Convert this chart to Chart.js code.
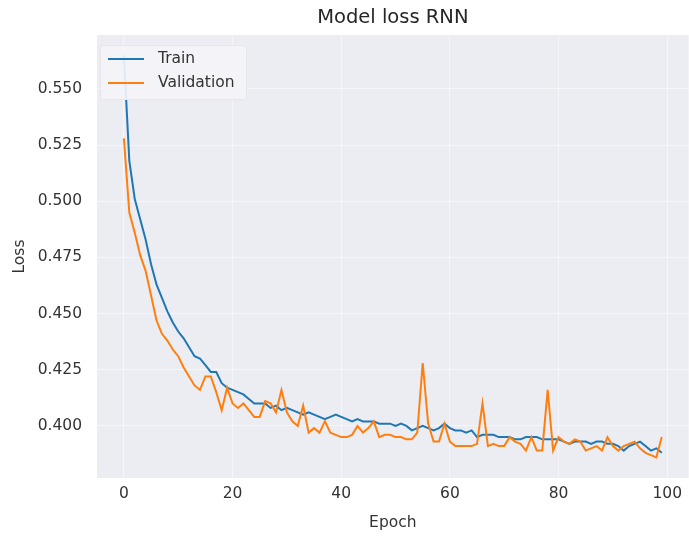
<!DOCTYPE html>
<html><head><meta charset="utf-8">
<script src="https://cdn.jsdelivr.net/npm/chart.js@4.4.1/dist/chart.umd.min.js"></script>
<style>html,body{margin:0;padding:0;background:#fff;}canvas{display:block;}</style>
</head><body>
<canvas id="c" width="689" height="538"></canvas>
<script>
const epochs = [0,1,2,3,4,5,6,7,8,9,10,11,12,13,14,15,16,17,18,19,20,21,22,23,24,25,26,27,28,29,30,31,32,33,34,35,36,37,38,39,40,41,42,43,44,45,46,47,48,49,50,51,52,53,54,55,56,57,58,59,60,61,62,63,64,65,66,67,68,69,70,71,72,73,74,75,76,77,78,79,80,81,82,83,84,85,86,87,88,89,90,91,92,93,94,95,96,97,98,99];
const trainLoss = [0.565,0.518,0.501,0.492,0.483,0.472,0.463,0.457,0.451,0.446,0.442,0.439,0.435,0.431,0.430,0.427,0.424,0.424,0.419,0.417,
0.416,0.415,0.414,0.412,0.410,0.410,0.410,0.408,0.409,0.407,0.408,0.407,0.406,0.405,0.406,0.405,0.404,0.403,0.404,0.405,
0.404,0.403,0.402,0.403,0.402,0.402,0.402,0.401,0.401,0.401,0.400,0.401,0.400,0.398,0.399,0.400,0.399,0.398,0.399,0.401,
0.399,0.398,0.398,0.397,0.398,0.395,0.396,0.396,0.396,0.395,0.395,0.395,0.394,0.394,0.395,0.395,0.395,0.394,0.394,0.394,
0.394,0.393,0.392,0.393,0.393,0.393,0.392,0.393,0.393,0.392,0.392,0.391,0.389,0.391,0.392,0.393,0.391,0.389,0.390,0.388];
const valLoss = [0.528,0.495,0.486,0.476,0.469,0.458,0.447,0.441,0.438,0.434,0.431,0.426,0.422,0.418,0.416,0.422,0.422,0.415,0.407,0.417,
0.410,0.408,0.410,0.407,0.404,0.404,0.411,0.410,0.406,0.416,0.406,0.402,0.400,0.409,0.397,0.399,0.397,0.402,0.397,0.396,
0.395,0.395,0.396,0.400,0.397,0.399,0.402,0.395,0.396,0.396,0.395,0.395,0.394,0.394,0.397,0.428,0.401,0.393,0.393,0.401,
0.393,0.391,0.391,0.391,0.391,0.392,0.410,0.391,0.392,0.391,0.391,0.395,0.393,0.392,0.389,0.395,0.389,0.389,0.416,0.389,
0.395,0.393,0.392,0.394,0.393,0.389,0.390,0.391,0.389,0.395,0.391,0.389,0.391,0.392,0.393,0.390,0.388,0.387,0.386,0.395];
const xTicks = [0,20,40,60,80,100];
const yTicks = [0.400,0.425,0.450,0.475,0.500,0.525,0.550];
const seriesNames = ['Train','Validation'];
const seriesColors = ['#1f77b4','#ff7f0e'];
const chartTitle = 'Model loss RNN';

const FAM = '"DejaVu Sans", sans-serif';
const TXT = '#333333';

const bgPlugin = {
  id: 'bg',
  beforeDraw(chart) {
    const {ctx, chartArea: a} = chart;
    ctx.save();
    ctx.fillStyle = '#ECECF3';
    ctx.fillRect(a.left, a.top, a.right - a.left, a.bottom - a.top);
    ctx.restore();
  },
  afterDraw(chart) {
    const {ctx, chartArea: a} = chart;
    ctx.save();
    ctx.fillStyle = '#262626';
    ctx.font = '19.5px ' + FAM;
    ctx.textAlign = 'center';
    ctx.textBaseline = 'middle';
    ctx.fillText(chartTitle, (a.left + a.right) / 2, 18);
    const bx = a.left + 3, by = a.top + 10, bw = 146, bh = 54;
    ctx.fillStyle = 'rgba(243,243,248,0.92)';
    ctx.strokeStyle = '#E6E6EE';
    ctx.lineWidth = 1;
    ctx.beginPath();
    ctx.roundRect(bx + 0.5, by + 0.5, bw, bh, 3);
    ctx.fill();
    ctx.stroke();
    ctx.font = '15.5px ' + FAM;
    ctx.textAlign = 'left';
    seriesNames.forEach((n, i) => {
      const yy = by + 14 + i * 24;
      ctx.strokeStyle = seriesColors[i];
      ctx.lineWidth = 2;
      ctx.beginPath();
      ctx.moveTo(bx + 8, yy);
      ctx.lineTo(bx + 44, yy);
      ctx.stroke();
      ctx.fillStyle = TXT;
      ctx.fillText(n, bx + 58, yy);
    });
    ctx.restore();
  }
};

const toPts = arr => arr.map((v, i) => ({x: epochs[i], y: v}));

new Chart(document.getElementById('c'), {
  type: 'line',
  data: {
    datasets: [
      {label: seriesNames[0], data: toPts(trainLoss), borderColor: seriesColors[0], borderWidth: 2, pointRadius: 0, tension: 0, fill: false, order: 1},
      {label: seriesNames[1], data: toPts(valLoss), borderColor: seriesColors[1], borderWidth: 2, pointRadius: 0, tension: 0, fill: false, order: 0}
    ]
  },
  options: {
    responsive: false,
    animation: false,
    layout: {padding: {top: 35, left: 0, right: 0, bottom: 0}},
    plugins: {legend: {display: false}, title: {display: false}, tooltip: {enabled: false}},
    scales: {
      x: {
        type: 'linear', min: -4.95, max: 103.95,
        afterBuildTicks: s => { s.ticks = xTicks.map(v => ({value: v})); },
        afterFit: s => { s.height = 60; },
        grid: {color: 'rgba(255,255,255,0.55)', lineWidth: 1, drawTicks: false},
        border: {display: false},
        ticks: {padding: 7, color: TXT, font: {family: FAM, size: 15.5}, maxRotation: 0},
        title: {display: true, text: 'Epoch', color: TXT, font: {family: FAM, size: 15.5}, padding: {top: 0, bottom: 6}}
      },
      y: {
        type: 'linear', min: 0.3768, max: 0.574,
        afterBuildTicks: s => { s.ticks = yTicks.map(v => ({value: v})); },
        afterFit: s => { s.width = 97; },
        grid: {color: 'rgba(255,255,255,0.55)', lineWidth: 1, drawTicks: false},
        border: {display: false},
        ticks: {padding: 15, color: TXT, font: {family: FAM, size: 15.5}, callback: v => Number(v).toFixed(3)},
        title: {display: true, text: 'Loss', color: TXT, font: {family: FAM, size: 15.5}, padding: {top: 11, bottom: 0}}
      }
    }
  },
  plugins: [bgPlugin]
});
</script>
</body></html>
